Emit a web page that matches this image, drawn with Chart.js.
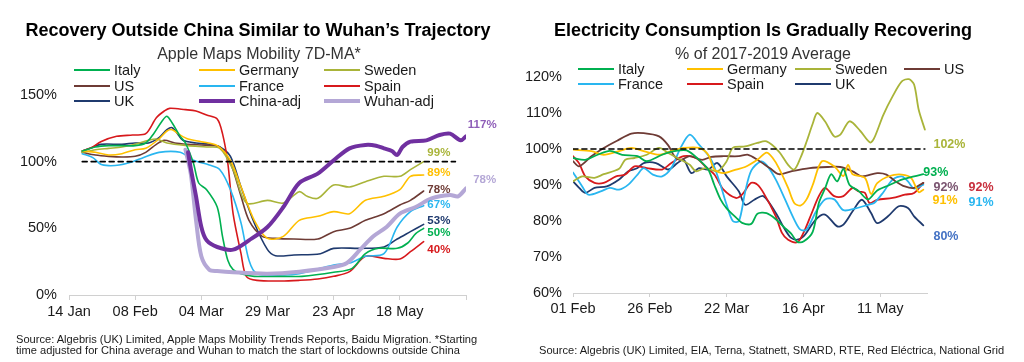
<!DOCTYPE html>
<html><head><meta charset="utf-8">
<script src="https://cdn.jsdelivr.net/npm/chart.js@4/dist/chart.umd.min.js"></script>
<style>
body{margin:0;background:#fff;width:1024px;height:362px;position:relative;overflow:hidden;font-family:"Liberation Sans",Arial,sans-serif;color:#1a1a1a;}
.t{position:absolute;white-space:nowrap;line-height:1;}
canvas{position:absolute;top:0;}
.sw{position:absolute;}
.title{font-weight:bold;font-size:18px;color:#000;text-align:center;}
.sub{font-size:16px;color:#333;text-align:center;}
.src{font-size:11.1px;line-height:11.7px;color:#1a1a1a;}
.lg{font-size:14.5px;color:#1a1a1a;}
</style></head><body>
<canvas id="c1" width="512" height="362" style="left:0"></canvas>
<canvas id="c2" width="512" height="362" style="left:512px"></canvas>
<div class="t title" style="left:0;width:516px;top:21px">Recovery Outside China Similar to Wuhan’s Trajectory</div>
<div class="t sub" style="left:0;width:518px;top:45.6px">Apple Maps Mobility 7D-MA*</div>
<div class="t title" style="left:512px;width:502px;top:21px">Electricity Consumption Is Gradually Recovering</div>
<div class="t sub" style="left:512px;width:502px;top:45.6px">% of 2017-2019 Average</div>
<div class="t src" style="left:16px;top:333.5px">Source: Algebris (UK) Limited, Apple Maps Mobility Trends Reports, Baidu Migration. *Starting<br>time adjusted for China average and Wuhan to match the start of lockdowns outside China</div>
<div class="t src" style="left:539px;top:345.2px">Source: Algebris (UK) Limited, EIA, Terna, Statnett, SMARD, RTE, Red Eléctrica, National Grid</div>
<div id="legends"></div>
<script>
// ---------- LEFT CHART DATA: Apple Maps mobility, 7D-MA (%), x = days after 14 Jan ----------
const leftTickLabels = ["14 Jan","08 Feb","04 Mar","29 Mar","23 Apr","18 May",""];
const leftYTicks = [0, 50, 100, 150];
const mobItaly = [[5,108],[10,111],[15,112],[20,112],[25,112],[29,114],[32,121],[35,130],[37,134],[39,129],[42,119],[44,114],[47,99],[49,84],[52,79],[56,66],[58,44],[60,26],[62,19],[65,16],[70,14],[80,14],[88,14],[100,17],[107,20],[112,31],[117,35],[124,35],[128,39],[131,46],[134,50]];
const mobGermany = [[5,108],[10,107],[15,105],[20,106],[25,109],[29,110],[34,117],[37,123],[39,124],[42,120],[45,117],[50,115],[56,112],[61,101],[65,81],[70,56],[75,42.5],[81,44],[87,56],[94,59],[100,62.5],[106,61],[112,71],[119,74],[125,79],[129,89],[134,90]];
const mobSweden = [[5,107],[10,109],[15,110],[20,111],[25,113],[30,116],[33,117],[37,114],[45,112],[52,111],[57,110],[62,94],[67,69],[75,71],[81,69],[87,77.5],[90,74],[94,72.5],[100,82.5],[106,81],[112,85],[119,89],[125,89],[129,94],[134,100]];
const mobUS = [[5,107],[10,105],[15,104],[20,103.5],[25,104],[29,107],[33,113],[36,116],[40,114],[45,113],[50,112.5],[55,112],[57,111],[61,99],[65,74],[68,56],[73,44],[78,42.5],[85,42],[94,42],[100,47.5],[106,50],[112,56],[119,61],[125,67.5],[129,71],[134,78]];
const mobFrance = [[5,106],[9,103],[12,98],[15,97],[19,97.5],[24,100],[28,103],[34,107],[42,107],[47,101],[53,97.5],[57,94],[61,79],[65,54],[68,26],[71,16],[81,15],[87,16],[100,22.5],[106,24],[112,29],[119,31],[124,51],[129,62.5],[134,67]];
const mobSpain = [[5,108],[9,111],[12,115],[18,119],[24,120],[29,121],[33,133],[36,138],[38,140],[44,139],[48,138],[52,135],[56,132],[58,121],[60,99],[62,61],[65,31],[67,14],[71,11],[80,10.5],[87,11],[94,12],[100,14],[106,17.5],[112,29],[119,27.5],[125,27],[129,32.5],[134,40]];
const mobUK = [[5,108],[8,110],[12,113],[20,113],[25,114],[30,114],[34,118],[37,124],[39,125.5],[41,121],[43,116],[48,114],[53,113],[57,111],[61,104],[65,81],[70,54],[75,34],[78,29.5],[85,30],[95,31],[100,35],[110,35],[119,36],[124,42],[129,47.5],[134,53]];
const mobChinaAdj = [[45,107],[46,95],[48,74],[50,51],[52,41],[56,36],[62,34],[68,41],[75,51],[81,66],[87,84],[94,91],[100,101],[106,110],[112,112.5],[116,112],[119,110],[122,108],[124,105],[126,111],[129,115],[135,116],[140,120],[144,121],[148,116],[150,119]];
const mobWuhanAdj = [[44,109],[46,91],[48,56],[50,29],[53,19],[56,18],[62,17],[75,16],[87,17.5],[100,21],[105,24],[110,34],[115,44],[120,51],[125,61],[131,66],[137,72.5],[144,75],[147,74],[150,80]];
const leftRefLine = [[5,100],[146,100]];
const leftEndText = ["117%","99%","89%","78%","78%","67%","53%","50%","40%"];

// ---------- RIGHT CHART DATA: electricity consumption, % of 2017-2019 avg, x = days after 01 Feb ----------
const rightTickLabels = ["01 Feb","26 Feb","22 Mar","16 Apr","11 May"];
const rightYTicks = [60,70,80,90,100,110,120];
const elecItaly = [[0,97.5],[4,97],[8,98.4],[12,99.5],[16,98.4],[21,98],[24,96.6],[29,98.4],[33,99.4],[37,99.6],[41,97],[44,94.3],[46,90],[48,86],[50,83.5],[53,81],[55,79.5],[58,79.2],[60,82],[63,82.2],[66,80.5],[69,78],[71,76.5],[73,74.2],[75,74.3],[78,77],[80,85],[82,89],[84,93],[86,91],[88,94.5],[90,90],[93,88.3],[96,86],[99,88.5],[103,90],[107,91.5],[111,92.4],[114,93]];
const elecGermany = [[0,99.8],[6,99.4],[10,98.4],[15,99.4],[19,100.3],[23,99.4],[28,98.4],[32,99.4],[36,100.3],[41,100.3],[44,98.4],[46,94.3],[49,93.3],[53,94.3],[56,95],[60,97],[63,99],[65,97.5],[67,94.7],[70,89.2],[72,85],[74,84.3],[76,86],[78,90],[81,96.6],[85,95.2],[88,92.5],[89.5,95.6],[91,93],[95,92],[97,87.5],[99,90.5],[103,92.5],[107,92.9],[110,92],[112.5,88],[114,88.7]];
const elecSweden = [[0,91],[3,92.4],[7,92],[10,93],[15,94.5],[17,97],[20,97.5],[24,98.4],[28,100.3],[31,98.9],[34,97.5],[38,95.6],[40,93.8],[43,94.7],[47,93.8],[50,96.6],[52,100.3],[56,100.7],[60,101.7],[63,102.1],[67,99.3],[70,95.6],[72,94.3],[74,97.5],[76,102],[78,107],[79.5,110],[82,107.7],[85,103.5],[87,104],[90,107.7],[93.5,105],[96.7,101.8],[98,103],[101,109.5],[104,114.6],[107,118.8],[109.3,119.4],[111,117.9],[112.5,110.9],[114.5,105.4]];
const elecUS = [[0,96.6],[2,95.2],[6,98],[10,100.3],[15,102.6],[19,104.3],[23,104.4],[28,103.5],[31,101],[33,98],[35,97],[38,98],[42,97],[45,97.8],[49,98],[54,98],[57,98.4],[60,97],[64,94.7],[67,93],[71,93.8],[77,94.7],[83,95],[87,95],[91,93.8],[94,92.4],[99,93.3],[102,92.9],[105,91],[108,89.6],[111,89.2],[114,90.6]];
const elecFrance = [[0,93.5],[3,89.6],[5,87.3],[9,88.2],[12,89.2],[15,88.7],[18,90.1],[21,92.9],[23,94.7],[26,92.9],[29,92.4],[32,94.7],[35,100.3],[38,104],[41,101.2],[45,97],[48,90],[50,84.5],[52,80],[54,80],[56,88],[58,94],[61,96.5],[63,95.5],[66,91.5],[69,86],[72,80.4],[74,77.6],[76,77.6],[79,82.5],[82,86],[85,86],[88,83],[92,83.5],[96,84.5],[98,85],[101,88],[104,91.5],[107,92.4],[109,91],[111,89],[114,90.1]];
const elecSpain = [[0,98],[2,96],[4,92.4],[7,90.6],[10,90.6],[14,92.4],[17,92.9],[20,95.2],[24,94.7],[29,94.3],[32,96.1],[36,98],[40,97.5],[43,95.2],[46,92.9],[49,88.7],[53,86.4],[55,87.3],[58,90.6],[60,90.1],[62,87.8],[66,81.3],[68,76.7],[70,74.8],[73,74.1],[75,76.7],[77.5,81.8],[80,86.9],[82,89.2],[85,86.9],[88,86.9],[91,89.2],[93,88.2],[95,87.8],[96.5,85],[99,85.9],[104,86.4],[108,87.3],[111,87.8],[114,90.6]];
const elecUK = [[0,91],[2,89.2],[4,87.8],[7,89.2],[11,89.6],[15,91.5],[18,93.8],[21,94.7],[23,96.1],[27,96.1],[31,94.3],[34,96.1],[36,97],[38.5,93.3],[41,94.7],[44,94.3],[47,96.1],[50,92.4],[54,88.2],[56,84.5],[59,85.9],[62,86.9],[66,82.2],[69,77.6],[71,75.3],[73,74.8],[75,75.7],[79,80.4],[82,81.8],[86,78.5],[88,79],[91,82.7],[94,85.9],[97,82.2],[99,79.4],[102.5,81.3],[106,84.1],[109,83.6],[111,81.3],[114,78.8]];
const rightRefLine = [[0,100],[114.5,100]];
const rightEndText = ["102%","93%","92%","92%","91%","91%","80%"];

// ---------- styles / layout ----------
const FONT = '"Liberation Sans", Arial, sans-serif';
const C = {italy:'#00B050', germany:'#FFC000', sweden:'#A9B439', us:'#6E3B35', france:'#29B6F0', spain:'#D7191C', uk:'#1F3A6E', china:'#7030A0', wuhan:'#B4A7D6'};
const pts = a => a.map(p => ({x:p[0], y:p[1]}));

function ds(label, data, color, width, order, dash){
  return {label, data: pts(data), borderColor: color, backgroundColor: color, borderWidth: width,
    pointRadius: 0, tension: 0.3, fill: false, order, borderDash: dash || [], borderCapStyle:'round'};
}

const endLabelPlugin = {
  id: 'endLabels',
  afterDatasetsDraw(chart, args, opts){
    const ctx = chart.ctx, xs = chart.scales.x, ys = chart.scales.y;
    ctx.save();
    ctx.font = opts.font;
    ctx.textBaseline = 'middle';
    ctx.textAlign = 'left';
    opts.items.forEach(it => {
      ctx.fillStyle = it.color;
      ctx.fillText(it.text, xs.getPixelForValue(it.x), ys.getPixelForValue(it.y));
    });
    ctx.restore();
  }
};

function makeChart(id, datasets, cfg){
  return new Chart(document.getElementById(id), {
    type: 'line',
    data: { datasets },
    plugins: [endLabelPlugin],
    options: {
      responsive: false, animation: false, devicePixelRatio: 1,
      layout: { padding: { top: cfg.padTop, right: cfg.padRight, left: 0, bottom: 0 } },
      plugins: { legend: {display:false}, tooltip: {enabled:false}, endLabels: cfg.endLabels },
      scales: {
        x: { type:'linear', min: cfg.xMin, max: cfg.xMax,
             ticks: { stepSize: 25, includeBounds: false, autoSkip:false, maxRotation:0, padding: 3,
                      font:{family:FONT, size:14.5}, color:'#1a1a1a',
                      callback: (v, i) => cfg.xLabels[i] !== undefined ? cfg.xLabels[i] : '' },
             grid: { drawOnChartArea:false, drawTicks:true, tickLength: cfg.tickLen, color:'#d0d0d0' },
             border: { display:true, color:'#d0d0d0', width:1 },
             afterFit: s => { s.height = cfg.xH; } },
        y: { min: cfg.yTicks[0], max: cfg.yTicks[cfg.yTicks.length-1],
             afterBuildTicks: s => { s.ticks = cfg.yTicks.map(v => ({value:v})); },
             ticks: { padding: cfg.yPad, font:{family:FONT, size:14.5}, color:'#1a1a1a', callback: v => v + '%' },
             grid: { display:false, drawTicks:false }, border: { display:false },
             afterFit: s => { s.width = cfg.yW; } }
      }
    }
  });
}

makeChart('c1', [
  ds('China-adj', mobChinaAdj, C.china, 4, 0),
  ds('ref', leftRefLine, '#000', 1.6, 1, [5,4]),
  ds('Wuhan-adj', mobWuhanAdj, C.wuhan, 4, 2),
  ds('Italy', mobItaly, C.italy, 1.6, 3),
  ds('Germany', mobGermany, C.germany, 1.6, 3),
  ds('Sweden', mobSweden, C.sweden, 1.6, 3),
  ds('US', mobUS, C.us, 1.6, 3),
  ds('France', mobFrance, C.france, 1.6, 3),
  ds('Spain', mobSpain, C.spain, 1.6, 3),
  ds('UK', mobUK, C.uk, 1.6, 3)
], {
  padTop: 95, padRight: 46, xH: 67, yW: 69, yPad: 12, tickLen: 5,
  xMin: 0, xMax: 150, xLabels: leftTickLabels, yTicks: leftYTicks,
  endLabels: { font: 'bold 11.5px ' + FONT, items: [
    {text:leftEndText[0], color:'#8E5DB8', x:150.7, y:127.5},
    {text:leftEndText[1], color:C.sweden, x:135.4, y:106.3},
    {text:leftEndText[2], color:C.germany, x:135.4, y:91.5},
    {text:leftEndText[3], color:C.us, x:135.4, y:78.7},
    {text:leftEndText[4], color:C.wuhan, x:152.7, y:86.5},
    {text:leftEndText[5], color:C.france, x:135.4, y:67.5},
    {text:leftEndText[6], color:C.uk, x:135.4, y:56},
    {text:leftEndText[7], color:C.italy, x:135.4, y:46.5},
    {text:leftEndText[8], color:C.spain, x:135.4, y:33.7}
  ]}
});

makeChart('c2', [
  ds('ref', rightRefLine, '#000', 1.6, 0, [5,4]),
  ds('Italy', elecItaly, C.italy, 1.8, 1),
  ds('Germany', elecGermany, C.germany, 1.8, 1),
  ds('Sweden', elecSweden, C.sweden, 1.8, 1),
  ds('US', elecUS, C.us, 1.8, 1),
  ds('France', elecFrance, C.france, 1.8, 1),
  ds('Spain', elecSpain, C.spain, 1.8, 1),
  ds('UK', elecUK, C.uk, 1.8, 1)
], {
  padTop: 77, padRight: 97, xH: 69, yW: 61, yPad: 11, tickLen: 4,
  xMin: 0, xMax: 115.2, xLabels: rightTickLabels, yTicks: rightYTicks,
  endLabels: { font: 'bold 12.5px ' + FONT, items: [
    {text:rightEndText[0], color:C.sweden, x:117.3, y:101.2},
    {text:rightEndText[1], color:C.italy, x:114, y:93.4},
    {text:rightEndText[2], color:'#7A5470', x:117.3, y:89.25},
    {text:rightEndText[3], color:'#C8303E', x:128.7, y:89.25},
    {text:rightEndText[4], color:C.germany, x:117, y:85.6},
    {text:rightEndText[5], color:C.france, x:128.7, y:85.1},
    {text:rightEndText[6], color:'#4472C4', x:117.3, y:75.6}
  ]}
});

// ---------- legends (HTML text) ----------
const leftLegend = [["Italy",C.italy,2],["Germany",C.germany,2],["Sweden",C.sweden,2],["US",C.us,2],["France",C.france,2],["Spain",C.spain,2],["UK",C.uk,2],["China-adj",C.china,4.3],["Wuhan-adj",C.wuhan,4.3]];
const rightLegend = [["Italy",C.italy,2.2],["Germany",C.germany,2.2],["Sweden",C.sweden,2.2],["US",C.us,2.2],["France",C.france,2.2],["Spain",C.spain,2.2],["UK",C.uk,2.2]];
function drawLegend(items, colsX, rowsY){
  const host = document.getElementById('legends');
  items.forEach((it, i) => {
    const cx = colsX[i % colsX.length], cy = rowsY[Math.floor(i / colsX.length)];
    const sw = document.createElement('div');
    sw.className = 'sw';
    sw.style.cssText = `left:${cx}px;top:${cy - it[2]/2}px;width:36px;height:${it[2]}px;background:${it[1]}`;
    host.appendChild(sw);
    const tx = document.createElement('div');
    tx.className = 't lg';
    tx.style.cssText = `left:${cx + 40}px;top:${cy - 7.3}px`;
    tx.textContent = it[0];
    host.appendChild(tx);
  });
}
drawLegend(leftLegend, [74,199,324], [70,86,101]);
drawLegend(rightLegend, [578,687,795,904], [69.3,84.3]);
</script>
</body></html>
